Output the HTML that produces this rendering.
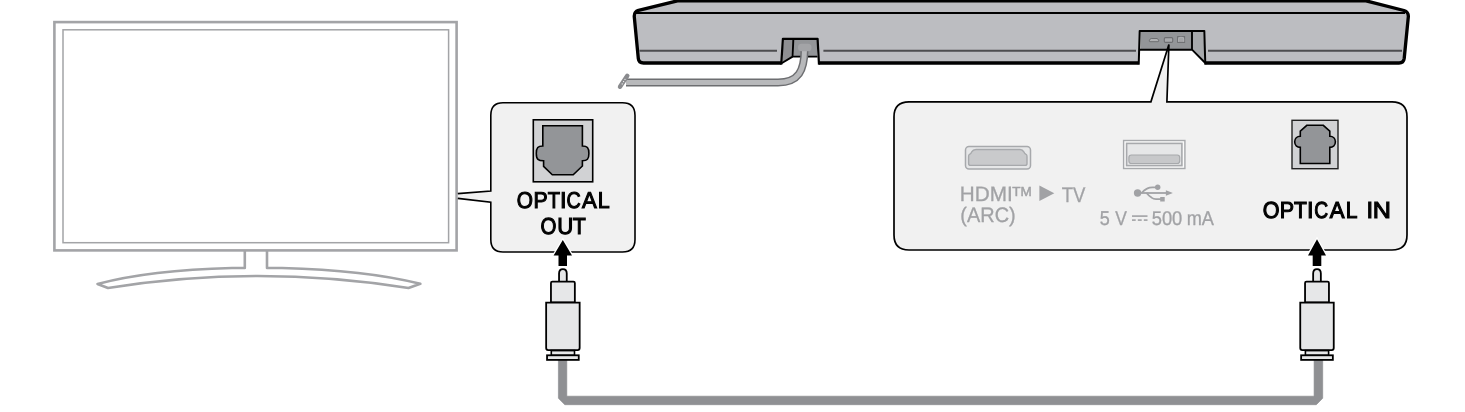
<!DOCTYPE html>
<html><head><meta charset="utf-8">
<style>
html,body{margin:0;padding:0;background:#fff;width:1465px;height:412px;overflow:hidden}
svg{display:block;will-change:transform}
text{font-family:"Liberation Sans",sans-serif;text-rendering:geometricPrecision}
</style></head><body>
<svg width="1465" height="412" viewBox="0 0 1465 412">
<!-- TV -->
<g fill="none" stroke="#a3a4a7">
<rect x="54.4" y="22.1" width="402.2" height="228.3" stroke-width="2.6"/>
<rect x="63" y="29.8" width="385.6" height="212.9" stroke-width="1.5"/>
<path d="M244.8 250.5 V268 H232 Q150 270 97.5 284 L108 288 Q257 264 408.5 288 L420.3 283.8 Q365 270 282 268 H267 V250.5" stroke-width="2.6" stroke-linejoin="round"/>
</g>

<!-- pointer from TV to box -->

<!-- OPTICAL OUT box -->
<path d="M457.8 193.6 L490.8 191 V115.3 Q490.8 102.8 503 102.8 H622.5 Q635 102.8 635 115.3 V239.5 Q635 252 622.5 252 H503 Q490.8 252 490.8 239.5 V202.3 L457.8 198.4 Z" fill="#f1f1f1"/>
<path d="M457.8 193.6 L490.8 191 V115.3 Q490.8 102.8 503 102.8 H622.5 Q635 102.8 635 115.3 V239.5 Q635 252 622.5 252 H503 Q490.8 252 490.8 239.5 V202.3 L457.8 198.4" fill="none" stroke="#000" stroke-width="1.6"/>

<!-- optical out connector -->
<rect x="533.3" y="119.8" width="59.4" height="62" fill="#d1d2d4" stroke="#000" stroke-width="1.6"/>
<path d="M542.8 125.8 H582.4 V146 C587.2 146 588.9 147.5 588.9 153.4 C588.9 159.3 587.2 160.8 582.4 160.8 V166 L573.2 174.8 H552.3 L543.6 166.3 V160.8 C538.3 160.8 536.3 159.3 536.3 153.4 C536.3 147.5 538 146 542.8 146 Z" fill="#939598" stroke="#000" stroke-width="1.6"/>

<g font-weight="normal" fill="#000" stroke="#000" stroke-width="4.6" font-size="96">
<text transform="translate(516.87 208.42) scale(0.2171 0.2386)">O</text>
<text transform="translate(533.57 208.42) scale(0.2218 0.2386)">P</text>
<text transform="translate(547.70 208.42) scale(0.2102 0.2386)">T</text>
<text transform="translate(559.98 208.42) scale(0.2462 0.2386)">I</text>
<text transform="translate(566.59 208.42) scale(0.2046 0.2386)">C</text>
<text transform="translate(582.09 208.42) scale(0.2300 0.2386)">A</text>
<text transform="translate(597.66 208.42) scale(0.2239 0.2386)">L</text>
<text transform="translate(540.47 233.82) scale(0.2129 0.2400)">O</text>
<text transform="translate(557.15 233.82) scale(0.2305 0.2400)">U</text>
<text transform="translate(572.80 233.82) scale(0.2220 0.2400)">T</text>
</g>

<!-- soundbar -->
<path d="M677.5 0.8 L1366 0.8 L1404 10.5 Q1408.8 12 1408.3 17 L1404.2 58.5 Q1403.6 63 1399 63 L643.5 63 Q638.8 63 638.3 58.5 L634.3 17 Q633.8 11.8 638.5 10.3 Z" fill="#bcbdc1" stroke="#000" stroke-width="3.3" stroke-linejoin="round"/>
<line x1="636" y1="12.9" x2="1405" y2="12.9" stroke="#000" stroke-width="2"/>
<g stroke="#4d4d4f" stroke-width="2">
<line x1="639.5" y1="50.7" x2="777" y2="50.7"/>
<line x1="823.4" y1="50.7" x2="1136" y2="50.7"/>
<line x1="1208" y1="50.7" x2="1402" y2="50.7"/>
</g>
<!-- left notch -->
<path d="M781.2 66 L782.9 38.9 H817.6 L819 66 Z" fill="#fff"/>
<path d="M783.5 40 H793.2 L792.6 56.6 L782 62.5 Z" fill="#8e8f92"/>
<rect x="793.5" y="40" width="23.5" height="16.4" fill="#939598"/>
<path d="M793.3 40 L792.6 56.6 L781.6 63.2 M792.6 56.6 H817.5" fill="none" stroke="#000" stroke-width="1.9"/>
<!-- cable from left notch -->
<path d="M804.5 50 C804.3 70 799 82.4 778 82.4 L626 82.4" fill="none" stroke="#6d6e71" stroke-width="8"/>
<path d="M804.5 50 C804.3 70 799 82.4 778 82.4 L626 82.4" fill="none" stroke="#b8b9bb" stroke-width="5"/>
<rect x="798" y="43.8" width="13.5" height="7.5" rx="3.5" fill="#a3a4a7"/>
<path d="M627.3 75.8 L620 86.8" stroke="#8a8b8e" stroke-width="4.4" stroke-linecap="round"/>
<g fill="#fff"><circle cx="625" cy="79.3" r="0.6"/><circle cx="623.6" cy="81.6" r="0.6"/><circle cx="622.2" cy="83.9" r="0.6"/></g>
<path d="M781.2 64.6 L782.9 38.9 H817.6 L819 64.6" fill="none" stroke="#000" stroke-width="2.2" stroke-linejoin="round"/>
<!-- right notch -->
<path d="M1138.6 66 L1139.7 30.9 H1204.3 L1205.4 66 Z" fill="#fff"/>
<rect x="1140.5" y="31.5" width="51" height="18" fill="#939598"/>
<path d="M1192.8 31.5 H1203.6 L1204.6 62 L1192.8 50 Z" fill="#a7a9ac"/>
<path d="M1139 49.7 H1192 V31 M1192 49.7 L1205.3 63" fill="none" stroke="#000" stroke-width="1.9"/>
<path d="M1138.7 64.6 L1139.7 30.9 H1204.3 L1205.3 64.6" fill="none" stroke="#000" stroke-width="2" stroke-linejoin="round"/>
<!-- small port icons -->
<path d="M1151.2 38.5 H1157 Q1158.6 39.1 1158.8 40.9 Q1158.8 41.7 1158 41.7 H1150 Q1149.2 41.7 1149.2 40.9 Q1149.4 39.1 1151.2 38.5 Z" fill="#b0b1b3" stroke="#6d6e71" stroke-width="1"/>
<rect x="1164.3" y="37.6" width="8.4" height="4.8" rx="1.2" fill="#a9aaad" stroke="#6d6e71" stroke-width="1.1"/>
<rect x="1177.6" y="36.6" width="7" height="5.8" fill="#a3a4a7" stroke="#6d6e71" stroke-width="1"/>
<path d="M1178.6 41.8 V38.6 L1180 37.3 H1182.2 L1183.8 38.6 V41.8" fill="none" stroke="#b8b9bb" stroke-width="0.7"/>

<!-- pointer from soundbar to right box -->
<path d="M1168.9 44.5 L1150.9 102.5 L1166.9 102.5 Z" fill="#f1f1f1"/>
<!-- right box -->
<path d="M909 101.8 H1150.9 L1168.9 44.5 L1166.9 101.8 H1392 Q1407 101.8 1407 116.8 V235 Q1407 250 1392 250 H909 Q894 250 894 235 V116.8 Q894 101.8 909 101.8 Z" fill="#f1f1f1" stroke="#000" stroke-width="1.7" stroke-linejoin="miter"/>

<!-- HDMI port -->
<rect x="965.5" y="146.5" width="65" height="22.5" rx="3.5" fill="#e6e7e8" stroke="#a7a9ac" stroke-width="1.5"/>
<path d="M976 149.5 H1020 Q1022.6 149.5 1023.6 151.6 Q1024.6 154 1026.4 154.6 Q1027 154.9 1027 156.8 V163.4 Q1027 165.4 1025 165.4 H970.6 Q968.6 165.4 968.6 163.4 V156.8 Q968.6 154.9 969.2 154.6 Q971 154 972 151.6 Q973 149.5 976 149.5 Z" fill="#c9cacc" stroke="#a7a9ac" stroke-width="1.4"/>
<!-- USB port -->
<rect x="1123.6" y="140.5" width="61.3" height="28" fill="#fbfbfb" stroke="#a7a9ac" stroke-width="1.4"/>
<rect x="1126.6" y="143.4" width="55.3" height="22.2" fill="#e6e7e8" stroke="#a7a9ac" stroke-width="1.6"/>
<rect x="1128.9" y="155" width="50.8" height="8.5" rx="2.5" fill="#c7c8ca" stroke="#a7a9ac" stroke-width="1.2"/>
<!-- usb symbol -->
<g fill="#a1a2a5" stroke="#a1a2a5">
<circle cx="1137.6" cy="193" r="3.7" stroke="none"/>
<path d="M1137.6 193 H1167" stroke-width="1.8" fill="none"/>
<path d="M1165.9 190.3 L1172.9 193 L1165.9 195.7 Z" stroke="none"/>
<path d="M1141.5 193 Q1144 190 1147 188.6 Q1149.5 187.3 1152.5 187.3 H1157" fill="none" stroke-width="1.8"/>
<circle cx="1157.7" cy="187.3" r="2.7" stroke="none"/>
<path d="M1146.5 193 Q1149 196 1151.5 197.6 Q1153.5 199.1 1156 199.1 H1161" fill="none" stroke-width="1.8"/>
<rect x="1160.2" y="197" width="4.5" height="4.5" stroke="none"/>
</g>
<!-- gray text -->
<g fill="#a1a2a5" stroke="#a1a2a5" stroke-width="0.3">
<text transform="translate(959.78 201.20) scale(1.0112 1.0175)" font-size="20.5">HDMI</text>
<text transform="translate(1012.2 196.1) scale(1.04 1.0)" font-size="13" stroke-width="0.45">TM</text>
<path d="M1039.4 185.5 L1054.3 193.2 L1039.4 200.9 Z" stroke="none"/>
<text transform="translate(1061.67 201.50) scale(0.9077 1.0316)" font-size="20.5">TV</text>
<text transform="translate(960.33 222.35) scale(0.9717 1.0234)" font-size="20.5">(ARC)</text>
<text transform="translate(1099.81 224.74) scale(0.9263 1.0255)" font-size="19.5">5</text>
<text transform="translate(1115.30 224.70) scale(0.8923 1.0222)" font-size="19.5">V</text>
<text transform="translate(1151.69 224.75) scale(0.9408 1.0143)" font-size="19.5">500</text>
<text transform="translate(1186.73 224.70) scale(0.9321 1.0296)" font-size="19.5">mA</text>
</g>


<g fill="#a1a2a5">
<rect x="1132" y="215.3" width="15.5" height="1.6"/>
<rect x="1132" y="219.3" width="3.7" height="1.6"/>
<rect x="1137.8" y="219.3" width="3.9" height="1.6"/>
<rect x="1143.8" y="219.3" width="3.7" height="1.6"/>
</g>

<!-- optical in connector -->
<rect x="1292" y="120.3" width="46" height="48.4" fill="#d1d2d4" stroke="#222" stroke-width="1.4"/>
<path d="M1306.8 125.3 H1323.3 L1329.8 131.2 V136.3 C1333 136.3 1335.4 138.6 1335.4 141.85 C1335.4 145.1 1333 147.4 1329.8 147.4 V163.5 H1300.3 V147.4 C1297.1 147.4 1294.7 145.1 1294.7 141.85 C1294.7 138.6 1297.1 136.3 1300.3 136.3 V131.2 Z" fill="#939598" stroke="#000" stroke-width="1.6"/>

<g font-weight="normal" fill="#000" stroke="#000" stroke-width="4.6" font-size="96">
<text transform="translate(1262.75 218.32) scale(0.2243 0.2414)">O</text>
<text transform="translate(1279.76 218.32) scale(0.2236 0.2414)">P</text>
<text transform="translate(1294.10 218.32) scale(0.2186 0.2414)">T</text>
<text transform="translate(1306.98 218.32) scale(0.2462 0.2414)">I</text>
<text transform="translate(1314.30 218.32) scale(0.2000 0.2414)">C</text>
<text transform="translate(1329.79 218.32) scale(0.2300 0.2414)">A</text>
<text transform="translate(1345.78 218.32) scale(0.2196 0.2414)">L</text>
<text transform="translate(1366.38 218.32) scale(0.2462 0.2400)">I</text>
<text transform="translate(1372.63 218.32) scale(0.2621 0.2400)">N</text>
</g>

<!-- arrows -->
<g>
<path d="M562.8 240 L572 255.4 H567 V266 H558.5 V255.4 H553.6 Z" fill="#000" stroke="#fff" stroke-width="2.5" stroke-linejoin="miter"/>
<path d="M562.8 240 L572 255.4 H567 V266 H558.5 V255.4 H553.6 Z" fill="#000"/>
<path d="M1317 239.3 L1326 255.4 H1321.3 V266 H1312.7 V255.4 H1308 Z" fill="#000" stroke="#fff" stroke-width="2.5"/>
<path d="M1317 239.3 L1326 255.4 H1321.3 V266 H1312.7 V255.4 H1308 Z" fill="#000"/>
</g>

<!-- bottom cable -->
<path d="M558.4 356 H566.8 V396.2 H1314.1 V356 H1322.7 V398.3 L1316.3 404.7 H564.8 L558.4 398.3 Z" fill="#8f9093" stroke="#87888b" stroke-width="0.6"/>

<!-- plugs -->
<g fill="#e6e7e8" stroke="#000" stroke-width="1.8">
<path d="M559.05 282 V273.60 Q559.05 269.10 562.90 269.10 Q566.75 269.10 566.75 273.60 V282 Z"/>
<path d="M550.95 302.5 V283.10 Q550.95 281.70 552.35 281.70 H573.45 Q574.85 281.70 574.85 283.10 V302.5 Z"/>
<path d="M546.15 302.70 H579.65 V348.10 Q579.65 350.10 577.65 350.10 H548.15 Q546.15 350.10 546.15 348.10 Z"/>
<rect x="551.30" y="350.6" width="23.2" height="4.8" stroke-width="1.6"/>
<rect x="547.05" y="355.3" width="31.7" height="4.6" stroke-width="1.8"/>
<path d="M1313.15 282 V273.60 Q1313.15 269.10 1317.00 269.10 Q1320.85 269.10 1320.85 273.60 V282 Z"/>
<path d="M1305.05 302.5 V283.10 Q1305.05 281.70 1306.45 281.70 H1327.55 Q1328.95 281.70 1328.95 283.10 V302.5 Z"/>
<path d="M1300.25 302.70 H1333.75 V348.10 Q1333.75 350.10 1331.75 350.10 H1302.25 Q1300.25 350.10 1300.25 348.10 Z"/>
<rect x="1305.40" y="350.6" width="23.2" height="4.8" stroke-width="1.6"/>
<rect x="1301.15" y="355.3" width="31.7" height="4.6" stroke-width="1.8"/>
</g>
</svg>
</body></html>
